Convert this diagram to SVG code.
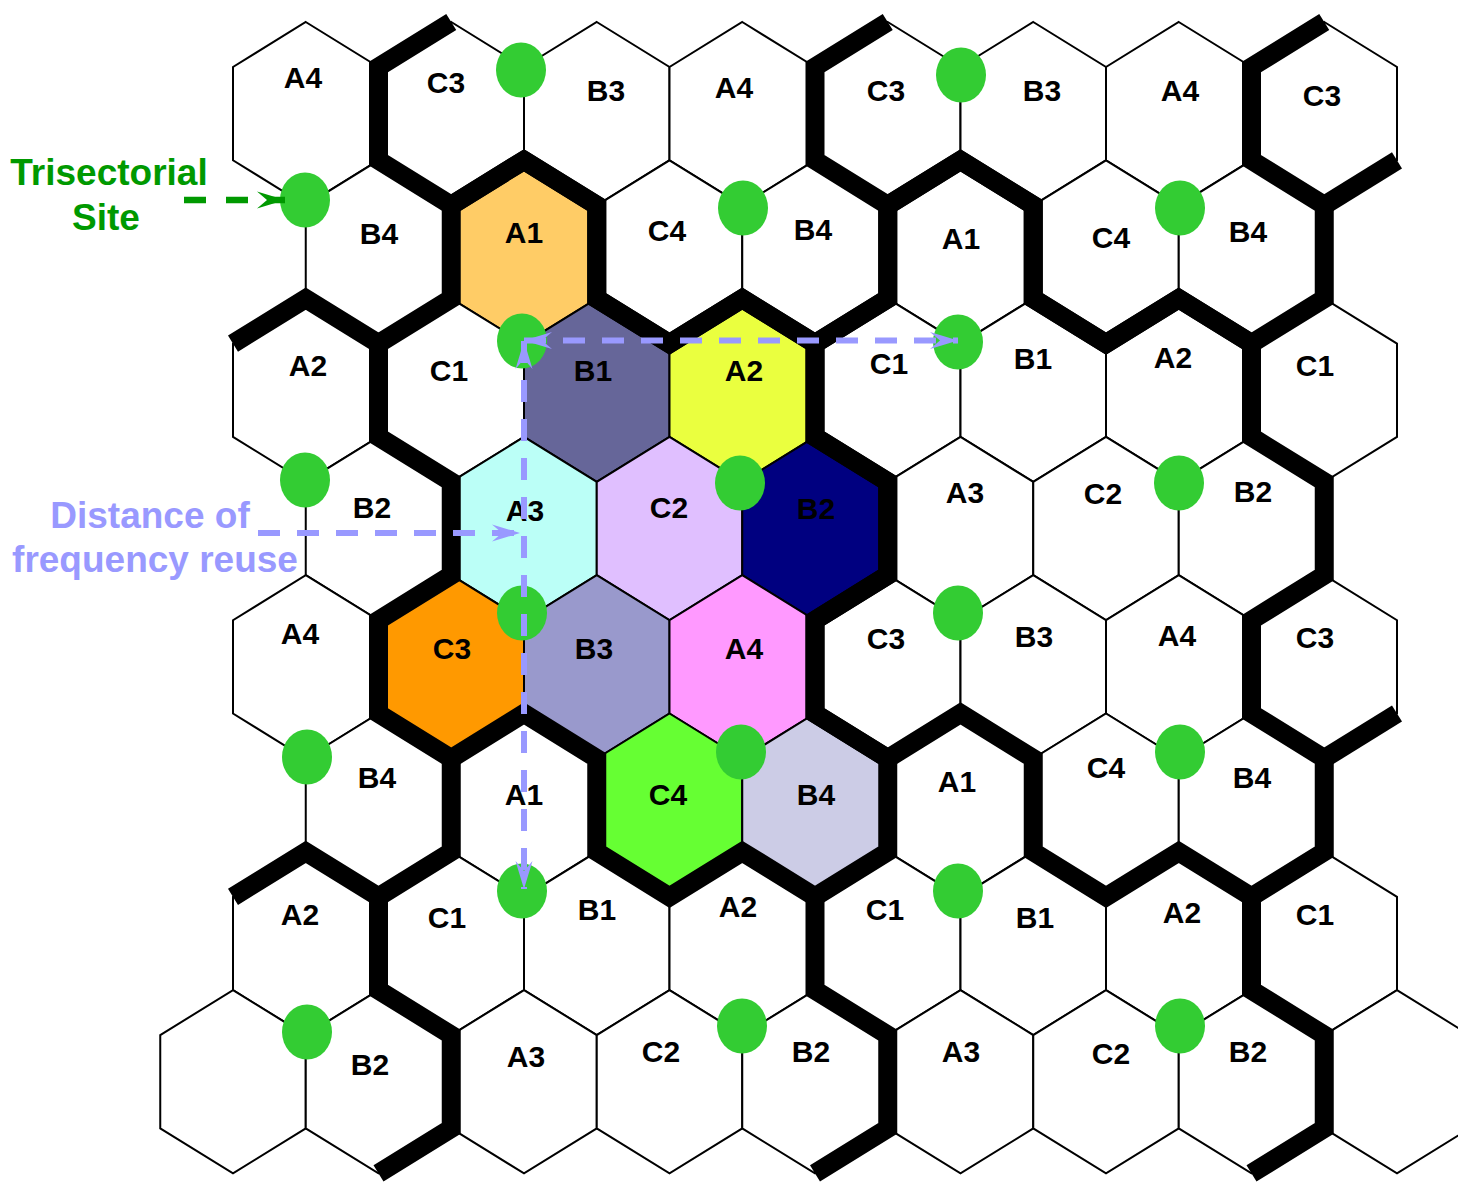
<svg xmlns="http://www.w3.org/2000/svg" xmlns:xlink="http://www.w3.org/1999/xlink" width="1458" height="1184" viewBox="0 0 1458 1184">
<style>
.hex{fill:#fff;stroke:#000;stroke-width:2;stroke-linejoin:miter}
.lbl{font-family:"Liberation Sans",Arial,sans-serif;font-weight:bold;font-size:30px;text-anchor:middle;fill:#000}
.thick{fill:none;stroke:#000;stroke-width:19;stroke-linejoin:miter;stroke-miterlimit:10;stroke-linecap:butt}
.site{fill:#33CC33}
.dp{fill:none;stroke:#9999FF;stroke-width:6;stroke-dasharray:22 17}
.dg{fill:none;stroke:#009900;stroke-width:6.5;stroke-dasharray:22 20}
.ann{font-family:"Liberation Sans",Arial,sans-serif;font-weight:bold;font-size:37px;text-anchor:middle}
</style>
<defs>
<polygon id="hex" points="0,0 72.75,45 72.75,138.3 0,183.3 -72.75,138.3 -72.75,45"/>
<path id="cluster" d="M524,160.3 L596.75,205.3 L596.75,298.6 L669.5,343.6 L742.25,298.6 L815,343.6 L815,436.9 L887.75,481.9 L887.75,575.2 L815,620.2 L815,713.5 L887.75,758.5 L887.75,851.8 L815,896.8 L742.25,851.8 L669.5,896.8 L596.75,851.8 L596.75,758.5 L524,713.5 L451.25,758.5 L378.5,713.5 L378.5,620.2 L451.25,575.2 L451.25,481.9 L378.5,436.9 L378.5,343.6 L451.25,298.6 L451.25,205.3 Z"/>
<marker id="ahP" markerUnits="userSpaceOnUse" markerWidth="32" markerHeight="22" viewBox="-30 -11 32 22" refX="0" refY="0" orient="auto-start-reverse"><path d="M0,0 L-28,-8.5 L-18,0 L-28,8.5 Z" fill="#9999FF"/></marker>
<marker id="ahG" markerUnits="userSpaceOnUse" markerWidth="32" markerHeight="22" viewBox="-30 -11 32 22" refX="0" refY="0" orient="auto"><path d="M0,0 L-28,-8.5 L-18,0 L-28,8.5 Z" fill="#009900"/></marker>
</defs>
<rect x="0" y="0" width="1458" height="1184" fill="#fff"/>
<g id="cells">
<g id="r0c1"><use href="#hex" class="hex" x="305.75" y="22"/><text class="lbl" x="303" y="88">A4</text></g>
<g id="r0c3"><use href="#hex" class="hex" x="451.25" y="22"/><text class="lbl" x="446" y="93">C3</text></g>
<g id="r0c5"><use href="#hex" class="hex" x="596.75" y="22"/><text class="lbl" x="606" y="101">B3</text></g>
<g id="r0c7"><use href="#hex" class="hex" x="742.25" y="22"/><text class="lbl" x="734" y="98">A4</text></g>
<g id="r0c9"><use href="#hex" class="hex" x="887.75" y="22"/><text class="lbl" x="886" y="101">C3</text></g>
<g id="r0c11"><use href="#hex" class="hex" x="1033.25" y="22"/><text class="lbl" x="1042" y="101">B3</text></g>
<g id="r0c13"><use href="#hex" class="hex" x="1178.75" y="22"/><text class="lbl" x="1180" y="101">A4</text></g>
<g id="r0c15"><use href="#hex" class="hex" x="1324.25" y="22"/><text class="lbl" x="1322" y="106">C3</text></g>

<g id="r1c2"><use href="#hex" class="hex" x="378.5" y="160.3"/><text class="lbl" x="379" y="244">B4</text></g>
<g id="r1c4"><use href="#hex" class="hex" x="524" y="160.3" style="fill:#FFCC66"/><text class="lbl" x="524" y="243">A1</text></g>
<g id="r1c6"><use href="#hex" class="hex" x="669.5" y="160.3"/><text class="lbl" x="667" y="241">C4</text></g>
<g id="r1c8"><use href="#hex" class="hex" x="815" y="160.3"/><text class="lbl" x="813" y="240">B4</text></g>
<g id="r1c10"><use href="#hex" class="hex" x="960.5" y="160.3"/><text class="lbl" x="961" y="249">A1</text></g>
<g id="r1c12"><use href="#hex" class="hex" x="1106" y="160.3"/><text class="lbl" x="1111" y="248">C4</text></g>
<g id="r1c14"><use href="#hex" class="hex" x="1251.5" y="160.3"/><text class="lbl" x="1248" y="242">B4</text></g>

<g id="r2c1"><use href="#hex" class="hex" x="305.75" y="298.6"/><text class="lbl" x="308" y="376">A2</text></g>
<g id="r2c3"><use href="#hex" class="hex" x="451.25" y="298.6"/><text class="lbl" x="449" y="381">C1</text></g>
<g id="r2c5"><use href="#hex" class="hex" x="596.75" y="298.6" style="fill:#666699"/><text class="lbl" x="593" y="381">B1</text></g>
<g id="r2c7"><use href="#hex" class="hex" x="742.25" y="298.6" style="fill:#EAFF3F"/><text class="lbl" x="744" y="381">A2</text></g>
<g id="r2c9"><use href="#hex" class="hex" x="887.75" y="298.6"/><text class="lbl" x="889" y="374">C1</text></g>
<g id="r2c11"><use href="#hex" class="hex" x="1033.25" y="298.6"/><text class="lbl" x="1033" y="369">B1</text></g>
<g id="r2c13"><use href="#hex" class="hex" x="1178.75" y="298.6"/><text class="lbl" x="1173" y="368">A2</text></g>
<g id="r2c15"><use href="#hex" class="hex" x="1324.25" y="298.6"/><text class="lbl" x="1315" y="376">C1</text></g>

<g id="r3c2"><use href="#hex" class="hex" x="378.5" y="436.9"/><text class="lbl" x="372" y="518">B2</text></g>
<g id="r3c4"><use href="#hex" class="hex" x="524" y="436.9" style="fill:#BBFFF7"/><text class="lbl" x="525" y="521">A3</text></g>
<g id="r3c6"><use href="#hex" class="hex" x="669.5" y="436.9" style="fill:#E0BFFF"/><text class="lbl" x="669" y="518">C2</text></g>
<g id="r3c8"><use href="#hex" class="hex" x="815" y="436.9" style="fill:#000080"/><text class="lbl" x="816" y="519">B2</text></g>
<g id="r3c10"><use href="#hex" class="hex" x="960.5" y="436.9"/><text class="lbl" x="965" y="503">A3</text></g>
<g id="r3c12"><use href="#hex" class="hex" x="1106" y="436.9"/><text class="lbl" x="1103" y="504">C2</text></g>
<g id="r3c14"><use href="#hex" class="hex" x="1251.5" y="436.9"/><text class="lbl" x="1253" y="502">B2</text></g>

<g id="r4c1"><use href="#hex" class="hex" x="305.75" y="575.2"/><text class="lbl" x="300" y="644">A4</text></g>
<g id="r4c3"><use href="#hex" class="hex" x="451.25" y="575.2" style="fill:#FF9900"/><text class="lbl" x="452" y="659">C3</text></g>
<g id="r4c5"><use href="#hex" class="hex" x="596.75" y="575.2" style="fill:#9999CC"/><text class="lbl" x="594" y="659">B3</text></g>
<g id="r4c7"><use href="#hex" class="hex" x="742.25" y="575.2" style="fill:#FF99FF"/><text class="lbl" x="744" y="659">A4</text></g>
<g id="r4c9"><use href="#hex" class="hex" x="887.75" y="575.2"/><text class="lbl" x="886" y="649">C3</text></g>
<g id="r4c11"><use href="#hex" class="hex" x="1033.25" y="575.2"/><text class="lbl" x="1034" y="647">B3</text></g>
<g id="r4c13"><use href="#hex" class="hex" x="1178.75" y="575.2"/><text class="lbl" x="1177" y="646">A4</text></g>
<g id="r4c15"><use href="#hex" class="hex" x="1324.25" y="575.2"/><text class="lbl" x="1315" y="648">C3</text></g>

<g id="r5c2"><use href="#hex" class="hex" x="378.5" y="713.5"/><text class="lbl" x="377" y="788">B4</text></g>
<g id="r5c4"><use href="#hex" class="hex" x="524" y="713.5"/><text class="lbl" x="524" y="805">A1</text></g>
<g id="r5c6"><use href="#hex" class="hex" x="669.5" y="713.5" style="fill:#66FF33"/><text class="lbl" x="668" y="805">C4</text></g>
<g id="r5c8"><use href="#hex" class="hex" x="815" y="713.5" style="fill:#CCCCE6"/><text class="lbl" x="816" y="805">B4</text></g>
<g id="r5c10"><use href="#hex" class="hex" x="960.5" y="713.5"/><text class="lbl" x="957" y="792">A1</text></g>
<g id="r5c12"><use href="#hex" class="hex" x="1106" y="713.5"/><text class="lbl" x="1106" y="778">C4</text></g>
<g id="r5c14"><use href="#hex" class="hex" x="1251.5" y="713.5"/><text class="lbl" x="1252" y="788">B4</text></g>

<g id="r6c1"><use href="#hex" class="hex" x="305.75" y="851.8"/><text class="lbl" x="300" y="925">A2</text></g>
<g id="r6c3"><use href="#hex" class="hex" x="451.25" y="851.8"/><text class="lbl" x="447" y="928">C1</text></g>
<g id="r6c5"><use href="#hex" class="hex" x="596.75" y="851.8"/><text class="lbl" x="597" y="920">B1</text></g>
<g id="r6c7"><use href="#hex" class="hex" x="742.25" y="851.8"/><text class="lbl" x="738" y="917">A2</text></g>
<g id="r6c9"><use href="#hex" class="hex" x="887.75" y="851.8"/><text class="lbl" x="885" y="920">C1</text></g>
<g id="r6c11"><use href="#hex" class="hex" x="1033.25" y="851.8"/><text class="lbl" x="1035" y="928">B1</text></g>
<g id="r6c13"><use href="#hex" class="hex" x="1178.75" y="851.8"/><text class="lbl" x="1182" y="923">A2</text></g>
<g id="r6c15"><use href="#hex" class="hex" x="1324.25" y="851.8"/><text class="lbl" x="1315" y="925">C1</text></g>

<g id="r7c0"><use href="#hex" class="hex" x="233" y="990.1"/></g>
<g id="r7c2"><use href="#hex" class="hex" x="378.5" y="990.1"/><text class="lbl" x="370" y="1075">B2</text></g>
<g id="r7c4"><use href="#hex" class="hex" x="524" y="990.1"/><text class="lbl" x="526" y="1067">A3</text></g>
<g id="r7c6"><use href="#hex" class="hex" x="669.5" y="990.1"/><text class="lbl" x="661" y="1062">C2</text></g>
<g id="r7c8"><use href="#hex" class="hex" x="815" y="990.1"/><text class="lbl" x="811" y="1062">B2</text></g>
<g id="r7c10"><use href="#hex" class="hex" x="960.5" y="990.1"/><text class="lbl" x="961" y="1062">A3</text></g>
<g id="r7c12"><use href="#hex" class="hex" x="1106" y="990.1"/><text class="lbl" x="1111" y="1064">C2</text></g>
<g id="r7c14"><use href="#hex" class="hex" x="1251.5" y="990.1"/><text class="lbl" x="1248" y="1062">B2</text></g>
<g id="r7c16"><use href="#hex" class="hex" x="1397" y="990.1"/></g>
</g>

<g id="cluster-borders">
<use href="#cluster" class="thick"/>
<use href="#cluster" class="thick" x="436.5"/>
<path class="thick" d="M887.75,22 L815,67 L815,160.3 L887.75,205.3 L887.75,298.6 L815,343.6 L742.25,298.6 L669.5,343.6 L596.75,298.6 L596.75,205.3 L524,160.3 L451.25,205.3 L378.5,160.3 L378.5,67 L451.25,22"/>
<path class="thick" d="M1324.25,22 L1251.5,67 L1251.5,160.3 L1324.25,205.3 L1324.25,298.6 L1251.5,343.6 L1178.75,298.6 L1106,343.6 L1033.25,298.6 L1033.25,205.3 L960.5,160.3 L887.75,205.3"/>
<path class="thick" d="M1397,160.3 L1324.25,205.3"/>
<path class="thick" d="M378.5,343.6 L305.75,298.6 L233,343.6"/>
<path class="thick" d="M451.25,758.5 L451.25,851.8 L378.5,896.8 L305.75,851.8 L233,896.8"/>
<path class="thick" d="M378.5,896.8 L378.5,990.1 L451.25,1035.1 L451.25,1128.4 L378.5,1173.4"/>
<path class="thick" d="M815,896.8 L815,990.1 L887.75,1035.1 L887.75,1128.4 L815,1173.4"/>
<path class="thick" d="M1251.5,896.8 L1251.5,990.1 L1324.25,1035.1 L1324.25,1128.4 L1251.5,1173.4"/>
<path class="thick" d="M1324.25,758.5 L1397,713.5"/>
</g>

<g id="sites">
<ellipse id="s1" class="site" cx="521" cy="70" rx="25" ry="27.5"/>
<ellipse id="s2" class="site" cx="961" cy="75" rx="25" ry="27.5"/>
<ellipse id="s3" class="site" cx="305" cy="200" rx="25" ry="27.5"/>
<ellipse id="s4" class="site" cx="743" cy="208" rx="25" ry="27.5"/>
<ellipse id="s5" class="site" cx="1180" cy="208" rx="25" ry="27.5"/>
<ellipse id="s6" class="site" cx="522" cy="341" rx="25" ry="27.5"/>
<ellipse id="s7" class="site" cx="958" cy="342" rx="25" ry="27.5"/>
<ellipse id="s8" class="site" cx="305" cy="480" rx="25" ry="27.5"/>
<ellipse id="s9" class="site" cx="740" cy="483" rx="25" ry="27.5"/>
<ellipse id="s10" class="site" cx="1179" cy="483" rx="25" ry="27.5"/>
<ellipse id="s11" class="site" cx="522" cy="613" rx="25" ry="27.5"/>
<ellipse id="s12" class="site" cx="958" cy="613" rx="25" ry="27.5"/>
<ellipse id="s13" class="site" cx="307" cy="757" rx="25" ry="27.5"/>
<ellipse id="s14" class="site" cx="741" cy="752" rx="25" ry="27.5"/>
<ellipse id="s15" class="site" cx="1180" cy="752" rx="25" ry="27.5"/>
<ellipse id="s16" class="site" cx="522" cy="891" rx="25" ry="27.5"/>
<ellipse id="s17" class="site" cx="958" cy="891" rx="25" ry="27.5"/>
<ellipse id="s18" class="site" cx="307" cy="1032" rx="25" ry="27.5"/>
<ellipse id="s19" class="site" cx="742" cy="1026" rx="25" ry="27.5"/>
<ellipse id="s20" class="site" cx="1180" cy="1026" rx="25" ry="27.5"/>
</g>

<g id="connectors">
<path id="arrow-site" class="dg" d="M184,200 L285,200" marker-end="url(#ahG)"/>
<path id="arrow-reuse" class="dp" d="M258,533 L520,533" marker-end="url(#ahP)"/>
<path id="dist-h" class="dp" d="M524,340.5 L958,340.5" marker-start="url(#ahP)" marker-end="url(#ahP)"/>
<path id="dist-v" class="dp" d="M524,341 L524,889" marker-start="url(#ahP)" marker-end="url(#ahP)"/>
</g>

<g id="label-site">
<text class="ann" fill="#009900" x="109" y="185">Trisectorial</text>
<text class="ann" fill="#009900" x="106" y="230">Site</text>
</g>
<g id="label-reuse">
<text class="ann" fill="#9999FF" x="150" y="528">Distance of</text>
<text class="ann" fill="#9999FF" x="155" y="572">frequency reuse</text>
</g>
</svg>
